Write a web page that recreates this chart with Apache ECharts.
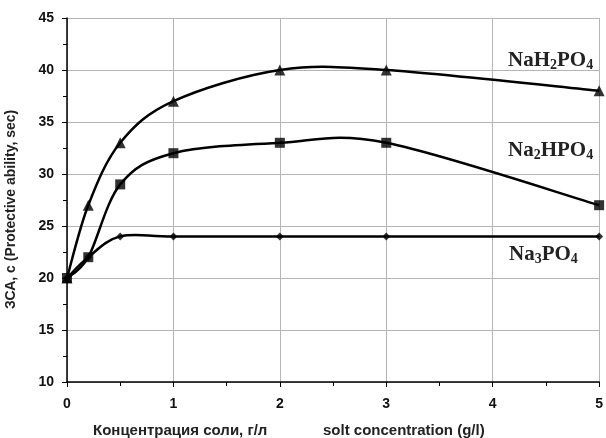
<!DOCTYPE html>
<html>
<head>
<meta charset="utf-8">
<script src="https://cdn.jsdelivr.net/npm/echarts@6/dist/echarts.min.js"></script>
<style>
  html, body { margin: 0; padding: 0; background: #fff; }
  #chart { width: 606px; height: 438px; }
</style>
</head>
<body>
<div id="chart"></div>
<script>
  // salt concentration, g/l
  let concentration = [0, 0.2, 0.5, 1, 2, 3, 5];
  let nah2po4 = [20, 27, 33, 37, 40, 40, 38];
  let na2hpo4 = [20, 22, 29, 32, 33, 33, 27];
  let na3po4 = [20, 22, 24, 24, 24, 24, 24];

  let pairs = (ys) => concentration.map((x, i) => [x, ys[i]]);

  let myChart = echarts.init(document.getElementById('chart'));

  // excel-like smoothed curve (catmull-rom), points go through api.coord
  let curveSeries = (ys) => ({
    type: 'custom',
    data: [[concentration[0], ys[0]]],
    silent: true,
    z: 2,
    renderItem: (params, api) => {
      let p = concentration.map((x, i) => api.coord([x, ys[i]]));
      let n = p.length;
      let d = 'M' + p[0][0] + ' ' + p[0][1];
      for (let i = 0; i < n - 1; i++) {
        let p0 = p[Math.max(i - 1, 0)], p1 = p[i], p2 = p[i + 1], p3 = p[Math.min(i + 2, n - 1)];
        let c1 = [p1[0] + (p2[0] - p0[0]) / 6, p1[1] + (p2[1] - p0[1]) / 6];
        let c2 = [p2[0] - (p3[0] - p1[0]) / 6, p2[1] - (p3[1] - p1[1]) / 6];
        d += ' C' + c1[0] + ' ' + c1[1] + ' ' + c2[0] + ' ' + c2[1] + ' ' + p2[0] + ' ' + p2[1];
      }
      return {
        type: 'path',
        shape: { pathData: d },
        style: { stroke: '#000', lineWidth: 2.5, fill: 'none' }
      };
    }
  });

  let markSeries = (ys, symbol, size) => ({
    type: 'scatter',
    data: pairs(ys),
    symbol: symbol,
    symbolSize: size,
    itemStyle: { color: '#000' },
    z: 3
  });

  let subStyle = { fontFamily: 'Liberation Serif', fontWeight: 'bold', fontSize: 14, fill: '#222', padding: [9, 0, 0, 0] };
  let mainStyle = { fontFamily: 'Liberation Serif', fontWeight: 'bold', fontSize: 21, fill: '#222' };

  let formula = (parts, left, top) => ({
    type: 'text',
    left: left,
    top: top,
    style: {
      text: parts.map(p => p[1] ? '{s|' + p[0] + '}' : '{m|' + p[0] + '}').join(''),
      rich: { m: mainStyle, s: subStyle }
    }
  });

  let tickFont = { color: '#111', fontFamily: 'Liberation Sans', fontWeight: 'bold', fontSize: 14 };
  let titleFont = { fontFamily: 'Liberation Sans', fontWeight: 'bold', fontSize: 15, fill: '#222' };

  myChart.setOption({
    animation: false,
    grid: { left: 67, right: 5, top: 18, bottom: 56 },
    xAxis: {
      type: 'value',
      min: 0,
      max: 5,
      interval: 1,
      axisLine: { onZero: false, lineStyle: { color: '#000', width: 1.5 } },
      axisTick: { length: 5, lineStyle: { color: '#000' } },
      minorTick: { show: true, splitNumber: 2, length: 4, lineStyle: { color: '#000' } },
      axisLabel: Object.assign({ margin: 15 }, tickFont),
      splitLine: { show: true, lineStyle: { color: '#b5b5b5', width: 1 } }
    },
    yAxis: {
      type: 'value',
      min: 10,
      max: 45,
      interval: 5,
      axisLine: { show: true, lineStyle: { color: '#000', width: 1.5 } },
      axisTick: { show: true, length: 5, lineStyle: { color: '#000' } },
      minorTick: { show: true, splitNumber: 2, length: 4, lineStyle: { color: '#000' } },
      axisLabel: Object.assign({ margin: 13 }, tickFont),
      splitLine: { show: true, lineStyle: { color: '#b5b5b5', width: 1 } }
    },
    series: [
      curveSeries(nah2po4),
      curveSeries(na2hpo4),
      curveSeries(na3po4),
      markSeries(nah2po4, 'triangle', 11),
      markSeries(na2hpo4, 'rect', 10),
      markSeries(na3po4, 'diamond', 8)
    ],
    graphic: [
      formula([['NaH', 0], ['2', 1], ['PO', 0], ['4', 1]], 508, 50),
      formula([['Na', 0], ['2', 1], ['HPO', 0], ['4', 1]], 508, 140),
      formula([['Na', 0], ['3', 1], ['PO', 0], ['4', 1]], 509, 244),
      {
        type: 'text',
        x: 4,
        y: 309,
        rotation: Math.PI / 2,
        style: Object.assign({ text: 'ЗСА, с (Protective ability, sec)', fontSize: 14 }, { fontFamily: 'Liberation Sans', fontWeight: 'bold', fill: '#222' })
      },
      {
        type: 'text',
        left: 93,
        top: 423,
        style: Object.assign({ text: 'Концентрация соли, г/л' }, titleFont)
      },
      {
        type: 'text',
        left: 323,
        top: 423,
        style: Object.assign({ text: 'solt concentration (g/l)' }, titleFont)
      }
    ]
  });
</script>
</body>
</html>
